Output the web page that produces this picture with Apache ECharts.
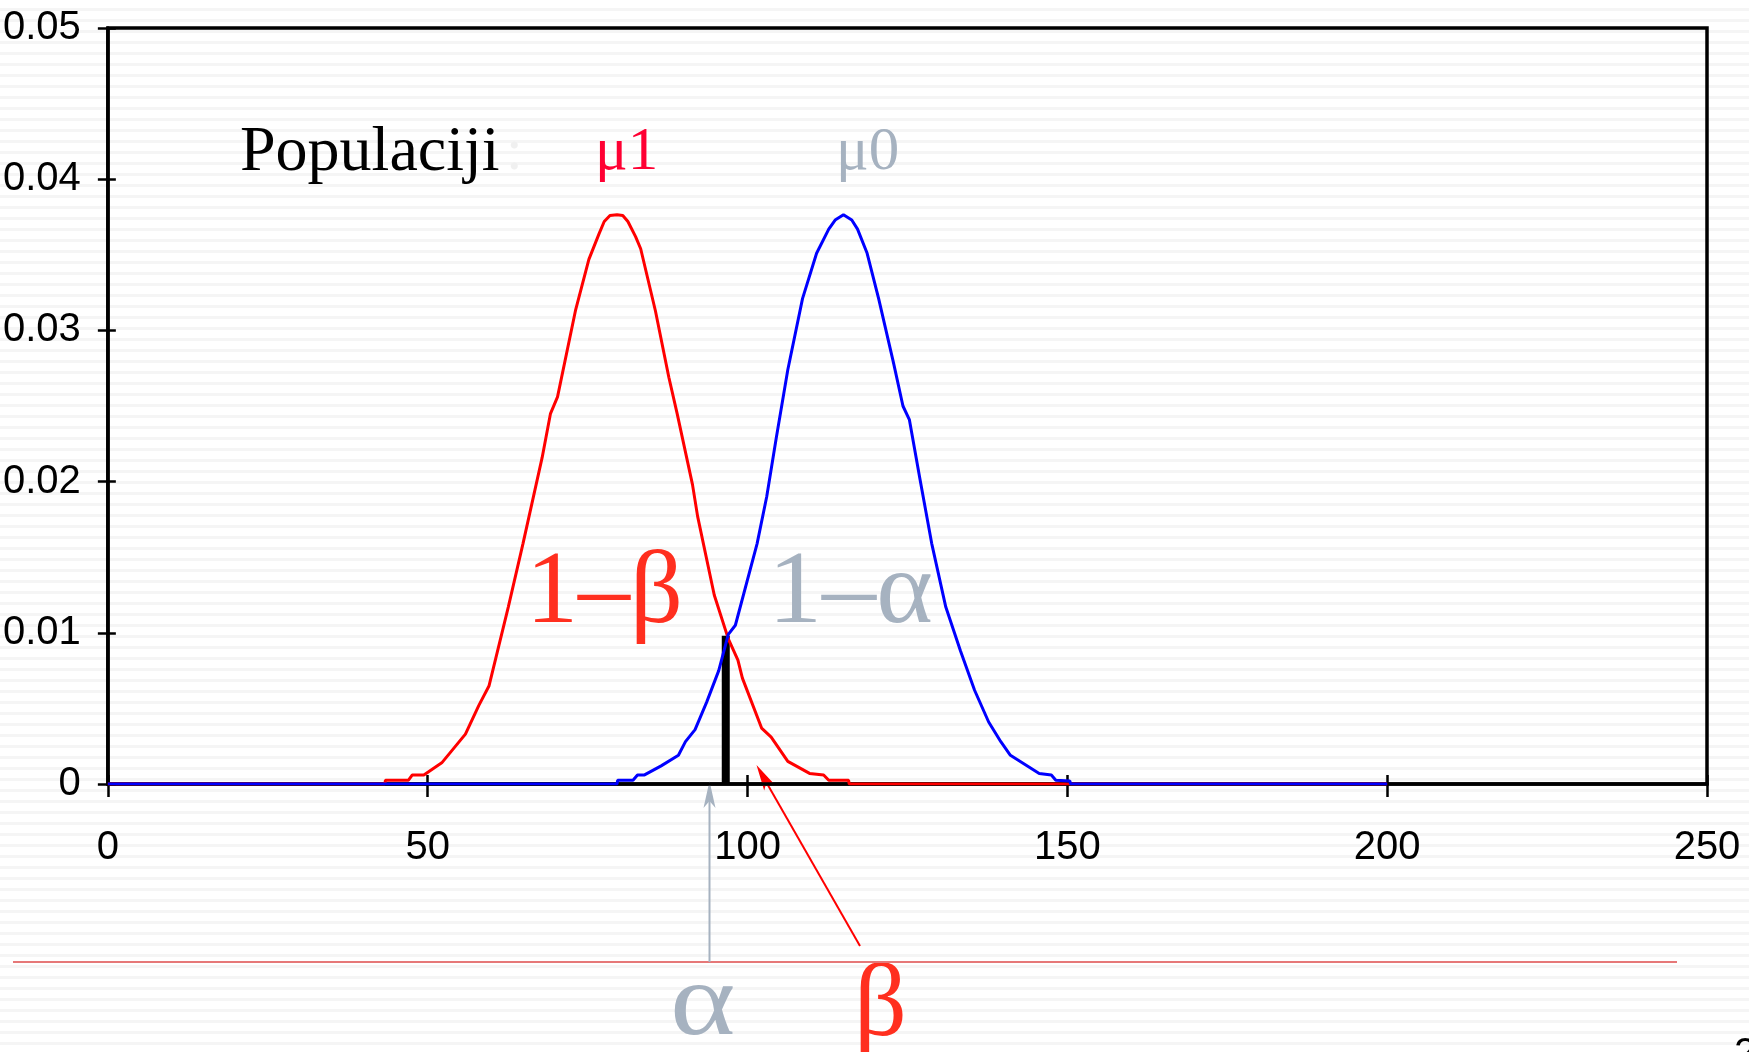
<!DOCTYPE html>
<html>
<head>
<meta charset="utf-8">
<script src="https://cdn.jsdelivr.net/npm/echarts@6/dist/echarts.min.js"></script>
<style>
html, body { margin: 0; padding: 0; }
body {
  width: 1749px; height: 1052px; overflow: hidden;
  background: repeating-linear-gradient(to bottom, #ffffff 0px, #ffffff 8px, #f5f5f5 8px, #f5f5f5 11px);
}
#chart { width: 1749px; height: 1052px; }
</style>
</head>
<body>
<div id="chart"></div>
<script>
// ---- data ----
var xTicks = [0, 50, 100, 150, 200, 250];
var yTicks = [0, 0.01, 0.02, 0.03, 0.04, 0.05];

var redX = [0, 43.3, 43.4, 47.0, 47.6, 49.4, 52.2, 55.9, 58.0, 59.6, 62.6, 64.9, 67.9, 69.2, 70.3, 73.1, 75.2, 76.8, 77.6, 78.5, 79.6, 80.5, 81.3, 82.5, 83.3, 85.6, 87.7, 89.0, 91.4, 92.2, 94.8, 97.0, 98.5, 99.2, 102.2, 103.7, 106.3, 109.7, 111.9, 112.7, 115.8, 115.9, 200];
var redY = [0, 0, 0.00025, 0.00025, 0.0006, 0.0006, 0.0014, 0.0033, 0.0052, 0.0065, 0.0117, 0.0159, 0.0216, 0.0245, 0.0256, 0.0313, 0.0347, 0.0364, 0.0372, 0.0376, 0.03765, 0.0376, 0.0372, 0.0362, 0.0354, 0.0313, 0.0269, 0.0245, 0.0198, 0.0177, 0.0125, 0.0096, 0.0082, 0.0070, 0.0037, 0.0031, 0.0015, 0.0007, 0.0006, 0.00025, 0.00025, 0, 0];

var blueX = [0, 79.6, 79.7, 82.1, 82.8, 83.9, 86.5, 89.2, 90.3, 91.8, 93.6, 95.5, 97.0, 98.1, 101.5, 103.0, 104.5, 106.3, 108.6, 110.8, 112.7, 113.7, 115.0, 116.3, 117.2, 118.7, 120.5, 122.8, 124.3, 125.3, 126.9, 128.8, 131.0, 133.3, 135.5, 137.7, 139.6, 141.1, 145.6, 147.5, 148.2, 150.4, 150.5, 200];
var blueY = [0, 0, 0.00025, 0.00025, 0.0006, 0.0006, 0.0012, 0.0019, 0.0028, 0.0036, 0.0054, 0.0075, 0.0099, 0.0105, 0.0159, 0.0190, 0.0229, 0.0274, 0.0321, 0.0351, 0.0367, 0.0373, 0.03765, 0.0373, 0.0367, 0.0351, 0.0321, 0.0279, 0.0250, 0.0241, 0.0203, 0.0159, 0.0117, 0.0088, 0.0062, 0.0041, 0.0028, 0.0019, 0.0007, 0.0006, 0.00025, 0.0002, 0, 0];

var criticalX = [96.6, 96.6];
var criticalY = [0, 0.0098];

// ---- build ----
function pairs(xs, ys) { return xs.map(function (x, i) { return [x, ys[i]]; }); }

var labelFont = "'Liberation Sans Narrow', 'Arial Narrow', 'Liberation Sans', sans-serif";
var serif = "'Liberation Serif', 'DejaVu Serif', serif";
var grayBlue = '#a6b2c0';
var redText = '#ff2f1f';

var chart = echarts.init(document.getElementById('chart'), null, { renderer: 'canvas' });

var xBase = { type: 'value', min: xTicks[0], max: xTicks[xTicks.length - 1], interval: 50, position: 'bottom', splitLine: { show: false } };
var yBase = { type: 'value', min: yTicks[0], max: yTicks[yTicks.length - 1], interval: 0.01, position: 'left', splitLine: { show: false } };

var option = {
  animation: false,
  backgroundColor: 'transparent',
  grid: { left: 107, right: 42, top: 28, bottom: 268, show: true, borderColor: '#000', borderWidth: 3.5, backgroundColor: 'transparent' },
  xAxis: [
    Object.assign({}, xBase, {
      axisLine: { show: true, lineStyle: { color: '#000', width: 3.5 } },
      axisTick: { show: true, inside: false, length: 13, lineStyle: { color: '#000', width: 2.5 } },
      axisLabel: { show: true, margin: 44, color: '#000', fontSize: 40, fontFamily: labelFont, formatter: function (v) { return String(v); } }
    }),
    Object.assign({}, xBase, {
      axisLine: { show: false },
      axisTick: { show: true, inside: true, length: 9, lineStyle: { color: '#000', width: 2.5 } },
      axisLabel: { show: false }
    })
  ],
  yAxis: [
    Object.assign({}, yBase, {
      axisLine: { show: true, lineStyle: { color: '#000', width: 3.5 } },
      axisTick: { show: true, inside: false, length: 10, lineStyle: { color: '#000', width: 2.5 } },
      axisLabel: { show: true, margin: 27, color: '#000', fontSize: 40, fontFamily: labelFont, formatter: function (v) { return v === 0 ? '0' : v.toFixed(2); } }
    }),
    Object.assign({}, yBase, {
      axisLine: { show: false },
      axisTick: { show: true, inside: true, length: 8, lineStyle: { color: '#000', width: 2.5 } },
      axisLabel: { show: false }
    })
  ],
  series: [
    { name: 'crit', type: 'line', xAxisIndex: 0, yAxisIndex: 0, data: pairs(criticalX, criticalY), showSymbol: false, symbol: 'none',
      lineStyle: { color: '#000', width: 8, cap: 'butt' }, z: 2 },
    { name: 'mu1', type: 'line', xAxisIndex: 0, yAxisIndex: 0, data: pairs(redX, redY), showSymbol: false, symbol: 'none',
      lineStyle: { color: '#ff0000', width: 3 }, z: 3 },
    { name: 'mu0', type: 'line', xAxisIndex: 0, yAxisIndex: 0, data: pairs(blueX, blueY), showSymbol: false, symbol: 'none',
      lineStyle: { color: '#0000ff', width: 3 }, z: 4 }
  ],
  graphic: [
    { type: 'text', x: 240, y: 153, style: { text: 'Populaciji', font: '64px ' + serif, fill: '#000', verticalAlign: 'middle', align: 'left' } },
    { type: 'text', x: 506, y: 153, style: { text: ':', font: '60px ' + serif, fill: '#f0f0f0', verticalAlign: 'middle', align: 'left' } },
    { type: 'text', x: 595, y: 153, style: { text: 'μ1', font: '61px ' + serif, fill: '#ff0033', verticalAlign: 'middle', align: 'left' } },
    { type: 'text', x: 836, y: 153, style: { text: 'μ0', font: '61px ' + serif, fill: grayBlue, verticalAlign: 'middle', align: 'left' } },
    { type: 'text', x: 526, y: 595, style: { text: '1–β', font: '104px ' + serif, fill: redText, verticalAlign: 'middle', align: 'left' } },
    { type: 'text', x: 768, y: 595, scaleX: 1.04, style: { text: '1–α', font: '104px ' + serif, fill: grayBlue, verticalAlign: 'middle', align: 'left' } },
    { type: 'text', x: 670, y: 1007, scaleX: 1.2, style: { text: 'α', font: '104px ' + serif, fill: grayBlue, verticalAlign: 'middle', align: 'left' } },
    { type: 'text', x: 854, y: 1008, style: { text: 'β', font: '104px ' + serif, fill: redText, verticalAlign: 'middle', align: 'left' } },
    { type: 'text', x: 1734, y: 1055, style: { text: '2', font: '40px ' + labelFont, fill: '#000', verticalAlign: 'middle', align: 'left' } },
    // horizontal red rule
    { type: 'line', shape: { x1: 13, y1: 962, x2: 1677, y2: 962 }, style: { stroke: '#e67878', lineWidth: 2 } },
    // gray arrow (alpha)
    { type: 'line', shape: { x1: 709.5, y1: 962, x2: 709.5, y2: 798 }, style: { stroke: grayBlue, lineWidth: 2 } },
    { type: 'polygon', shape: { points: [[709.5, 781], [703.5, 808], [709.5, 801], [715.5, 808]] }, style: { fill: grayBlue } },
    // red arrow (beta)
    { type: 'line', shape: { x1: 860, y1: 946, x2: 765, y2: 780 }, style: { stroke: '#ff0000', lineWidth: 2 } },
    { type: 'polygon', shape: { points: [[756.5, 765], [764.2, 790.6], [766.4, 782.4], [774.6, 784.6]] }, style: { fill: '#ff0000' } }
  ]
};
chart.setOption(option);
</script>
</body>
</html>
